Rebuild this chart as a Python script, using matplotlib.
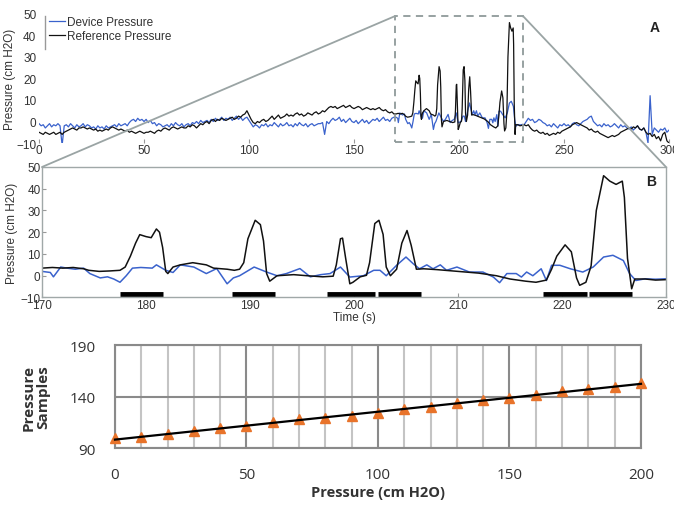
import numpy as np
import matplotlib
matplotlib.use("Agg")
import matplotlib.pyplot as plt
from matplotlib.patches import Rectangle, ConnectionPatch
from matplotlib.lines import Line2D

# -------------------------------------------------
# Data: pressure traces (cm H2O)
# -------------------------------------------------
# 1-s samples, 0..169 s
early_t = np.arange(0, 170)
ref_early = [
    -5, -5.5, -6, -5, -5.5, -6, -5.5, -5, -6, -5.5,
    -5, -6, -5, -4.5, -4, -3.5, -3, -3.5, -4, -3,
    -3, -2.5, -3, -3.5, -3, -3.5, -4, -3.5, -4.5, -4,
    -4.5, -4, -3.5, -4, -3, -2.5, -3, -3.5, -4, -3.5,
    -4, -4.5, -4, -5, -4.5, -5, -5.5, -5, -4.5, -5,
    -5.5, -5, -5, -4.5, -5, -5.5, -4.5, -4, -4.5, -3.5,
    -3, -3.5, -4, -3, -2.5, -3, -3.5, -3, -2.5, -3,
    -3, -2, -2.5, -1.5, -2, -3, -2, -1, -1.5, -0.5,
    0, -1, 0.5, 1, 0, 1, 0.5, 1.5, 1, 0.5,
    1, 1.5, 2, 1, 1.5, 2.5, 2, 3, 3.5, 5,
    3, 1, -0.5, -1, 0, -0.5, 0.5, 1, 0, 0.5,
    1.5, 2.5, 1, 2, 3, 1.5, 2, 2.5, 3.5, 2.5,
    3, 2.5, 3.5, 4, 3, 3.5, 2.5, 3, 4, 3.5,
    3, 4, 4.5, 3.5, 4, 5, 4.5, 5.5, 6.5, 7,
    6.5, 7, 6, 6.5, 7, 7.5, 6.5, 7, 7.5, 6.5,
    6, 6.5, 7, 6.5, 5.5, 6, 6.5, 6, 5.5, 6,
    5.5, 6, 6.5, 5.5, 5, 5.5, 4.5, 4, 4.5, 3.5,
]
dev_early = [
    -1, -2, -1.5, -3, -2, -1, -2.5, -1.5, -2, -1,
    -2, -11, -2, -1.5, -2.5, -1, -2, -3, -1.5, -2.5,
    -2, -1, -2.5, -1.5, -2, -3, -2.5, -3.5, -2, -3,
    -2.5, -3.5, -2, -3, -2.5, -2, -1.5, -2.5, -1, -2,
    -1.5, -1, -2, -0.5, 0.5, 1, 0, 1.5, 0.5, 1,
    0, 1, -0.5, 0.5, -1, -0.5, -2, -1, -1.5, -2.5,
    -2, -1.5, -2.5, -1, -2, -0.5, -1.5, -2, -1, -2.5,
    -1.5, -1, -2, -0.5, -1, 0, -1, 0.5, -0.5, 0,
    0.5, -0.5, 1, 0, 1.5, 0.5, 1, 2, 0.5, 1.5,
    1, 2, 0.5, 1.5, 2.5, 1, 2, 0.5, 1.5, 2,
    0.5, -1, -2.5, -1.5, -2, -3, -1.5, -2, -1, -2.5,
    -1.5, -2, -0.5, -1.5, -2.5, -1, -2, -1.5, -0.5, -2,
    -1.5, -2.5, -1, -2, -0.5, -1.5, -2, -1, -2.5, -1.5,
    -1, -2, -1.5, -1, -1, -0.5, -6, 0, -1, 0.5,
    1.5, 0.5, 1, 2, 0, 1, -0.5, 0.5, 1.5, 0,
    -0.5, 0.5, -1, 0, 1, -0.5, 0.5, -1, 0, 1,
    0.5, 1.5, 0, 1, 2, 0.5, 1, 0, 1.5, 2,
]

# zoomed section 170..230 s (irregular samples)
ref_zoom_t = [170, 171, 172, 173, 174, 174.5, 175.5, 176.5, 177.5, 178, 178.5,
              179, 179.4, 180, 180.5, 181, 181.3, 181.6, 181.9, 182.1, 182.6,
              183.3, 184.5, 185.8, 186.5, 187.8, 188.5, 189, 189.4, 189.8,
              190.5, 191, 191.3, 191.6, 191.9, 192.6, 194.2, 195.5, 197, 198,
              198.3, 198.7, 198.9, 199.2, 199.6, 199.9, 200.6, 201.2, 201.5,
              202, 202.4, 202.8, 203.1, 203.5, 204.1, 204.6, 205.1, 205.5, 206,
              206.7, 208, 210, 212, 213.7, 215, 216.5, 217.5, 218.5, 219,
              219.5, 220.3, 220.9, 221.4, 221.7, 222.3, 222.8, 223.3, 224,
              224.6, 225.2, 225.8, 226, 226.3, 226.7, 227, 228, 229, 230]
ref_zoom = [3.5, 3.8, 3.5, 3.8, 3.2, 2.5, 2, 2.2, 2.5, 4, 9,
            15, 18.9, 18, 17.5, 21.5, 20, 13, 2, 1, 4,
            5, 6, 5, 3.5, 3, 2.5, 3, 6, 17,
            25.5, 23.5, 16, 1, -2.5, 0, 0.5, 0, -0.5, -0.2,
            5, 17, 17.3, 8, -3.7, -3, -0.5, 0.2, 6,
            24, 25.5, 19, 4, 0, 3, 15, 20.8, 14, 3,
            3.2, 2.8, 2, 1.2, 0, -1.5, -2.5, -3, -2, 3,
            9, 14.2, 11, -1, -4.4, -3, 4.5, 30, 46,
            43.5, 42, 43.5, 36, 8, -6, -1.5, -1.5, -2, -1.8]

dev_zoom_t = [170, 170.8, 171.1, 171.8, 172.4, 173.2, 174, 174.6, 175.6, 176.3,
              176.9, 177.5, 178.1, 178.7, 179.5, 180.6, 181, 181.9, 182.6,
              183.3, 184.6, 185.8, 186.8, 187.8, 188.4, 189, 190.4, 191.6,
              192.6, 193.5, 194.8, 195.8, 196.8, 197.7, 198.7, 199.6, 200.9,
              201.9, 202.5, 203.1, 204.1, 205, 205.7, 206.3, 207, 207.6, 208.3,
              208.9, 209.9, 211.1, 212.4, 213.4, 214, 214.7, 215.6, 216.1,
              216.6, 217.2, 218, 218.5, 219, 219.8, 220.8, 222, 223, 224,
              224.9, 225.9, 226.5, 227.1, 228, 229, 230]
dev_zoom = [2, 1.5, -0.5, 4, 3.5, 3, 3.5, 1, -1, -0.5,
            -1.5, -3, 0, 3.5, 3.8, 3.5, 5, 2.5, 1.5,
            5, 4, 1, 3.3, -3.7, -1, 0, 4, 1.7,
            0, 1, 3.3, -0.5, 0.5, 1, 4, -0.6, 0,
            2.5, 2.5, 0, 4.8, 8.6, 5.5, 3.2, 5, 3.2, 5,
            2.5, 4, 1.7, 1.7, -0.6, -3.2, 1, 1, -0.6,
            1.7, 0, 3.2, -2.2, 4.8, 4.8, 3.2, 1.7, 4, 8.6,
            9.4, 7, 1, -2.2, -1.4, -1.6, -1.4]

# 1-s samples, 231..300 s
late_t = np.arange(231, 301)
ref_late = [
    -1.5, -2, -1.5, -3, -4, -4.5, -4, -5, -5.5, -5,
    -6, -5.5, -6.5, -6, -5.5, -6, -5, -5.5, -4.5, -4,
    -3.5, -3, -2.5, -1.5, -1, -0.5, -1, -1.5, -2, -2.5,
    -3, -4, -3.5, -4.5, -5, -4.5, -5.5, -6, -6.5, -7,
    -7.5, -7, -6.5, -7, -6.5, -6, -5, -4.5, -4, -3.5,
    -3, -3.5, -2.5, -3, -2, -3.5, -4, -3, -5, -6,
    -5.5, -7, -6, -8, -7, -9, -6, -5, -9, -10,
]
dev_late = [
    -1.5, 0, 1.5, 0.5, 1, -0.5, 0, 1, 0.5, -0.5,
    -1, -2, -1.5, -2.5, -1, -2, -3, -1.5, -2, -1,
    -2, -1.5, -2.5, -1, -0.5, -1.5, -2, -1, 0, 0.5,
    1, 2, 2.5, 0, -1, -2, -1.5, -2.5, -1, -2,
    -1.5, -2.5, -2, -1, -2, -3, -1.5, -2.5, -2, -3,
    -3.5, -2.5, -4, -3, -2, -3.5, -4, -3, -5, -10,
    12, -6, -3, -4, -5, -3.5, -4, -3, -5, -4,
]

# events marked under panel B
event_start = [177.5, 188.3, 197.4, 202.3, 218.2, 222.6]
event_end = [181.6, 192.4, 202.0, 206.4, 222.4, 226.7]

# calibration (panel C)
cal_pressure = np.arange(0, 201, 10)
cal_samples = [99.4, 100.4, 103.3, 106.2, 109.7, 111, 115.6, 118, 119, 121,
               124, 128, 130, 133.5, 136.6, 138.7, 141, 145.2, 147.4, 149, 152.9]

# -------------------------------------------------
# assemble full traces
# -------------------------------------------------
ref_t = np.concatenate([early_t, ref_zoom_t, late_t])
ref_v = np.concatenate([ref_early, ref_zoom, ref_late])
dev_t = np.concatenate([early_t, dev_zoom_t, late_t])
dev_v = np.concatenate([dev_early, dev_zoom, dev_late])

c_dev = "#3a62cc"
c_ref = "#111111"
c_gray = "#9aa4a4"
c_txt = "#333333"
sans = ["Liberation Sans", "DejaVu Sans"]
calib_font = ["Open Sans", "DejaVu Sans"]

plt.rcParams["font.family"] = sans

fig = plt.figure(figsize=(6.74, 5.06), dpi=100)

# -------------------------------------------------
# Panel A
# -------------------------------------------------
axA = fig.add_axes([0.0579, 0.7154, 0.9347, 0.2550])
axA.plot(dev_t, dev_v, color=c_dev, lw=0.9, label="Device Pressure")
axA.plot(ref_t, ref_v, color=c_ref, lw=0.9, label="Reference Pressure")
axA.set_xlim(0, 300)
axA.set_ylim(-10, 50)
axA.set_xticks([0, 50, 100, 150, 200, 250, 300])
axA.set_yticks([-10, 0, 10, 20, 30, 40, 50])
for s in axA.spines.values():
    s.set_visible(False)
axA.tick_params(axis="x", direction="in", length=3, color="#999999",
                labelsize=8.5, labelcolor=c_txt, pad=1)
axA.tick_params(axis="y", length=0, labelsize=8.5, labelcolor=c_txt, pad=2)
axA.set_ylabel("Pressure (cm H2O)", fontsize=8.5, color=c_txt, labelpad=0)
axA.text(0.985, 0.87, "A", transform=axA.transAxes, fontsize=10,
         fontweight="bold", ha="right", color="#222222")
axA.add_patch(Rectangle((169.5, -9.7), 61, 58.7, fill=False, ls=(0, (4, 3)),
                        lw=1.3, ec="#8f9a9a", zorder=3))
leg = axA.legend(loc="upper left", bbox_to_anchor=(0.005, 1.04), frameon=False,
                 fontsize=8.5, handlelength=1.3, handletextpad=0.2,
                 labelspacing=0.15, borderaxespad=0.2)
for t in leg.get_texts():
    t.set_color(c_txt)
fig.add_artist(Line2D([45 / 674, 45 / 674], [1 - 17 / 506, 1 - 50 / 506],
                      color="#999999", lw=1))

# -------------------------------------------------
# Panel B
# -------------------------------------------------
axB = fig.add_axes([0.0623, 0.4101, 0.9258, 0.2579])
axB.plot(dev_t, dev_v, color=c_dev, lw=1.1)
axB.plot(ref_t, ref_v, color=c_ref, lw=1.1)
axB.hlines([-8.6] * len(event_start), event_start, event_end, color="black",
           lw=3.5)
axB.set_xlim(170, 230)
axB.set_ylim(-10, 50)
axB.set_xticks([170, 180, 190, 200, 210, 220, 230])
axB.set_yticks([-10, 0, 10, 20, 30, 40, 50])
for s in axB.spines.values():
    s.set_color("#a0a8a8")
    s.set_linewidth(1.0)
axB.tick_params(direction="in", length=3, color="#999999", labelsize=8.5,
                labelcolor=c_txt, pad=1)
axB.set_ylabel("Pressure (cm H2O)", fontsize=8.5, color=c_txt, labelpad=2)
axB.set_xlabel("Time (s)", fontsize=8.5, color=c_txt, labelpad=0)
axB.text(0.985, 0.86, "B", transform=axB.transAxes, fontsize=10,
         fontweight="bold", ha="right", color="#222222")

# zoom connectors
for xa, xb in [(169.5, 0), (230.5, 1)]:
    con = ConnectionPatch(xyA=(xa, 49), coordsA=axA.transData,
                          xyB=(xb, 1), coordsB=axB.transAxes,
                          color=c_gray, lw=1.3)
    fig.add_artist(con)

# -------------------------------------------------
# Panel C
# -------------------------------------------------
axC = fig.add_axes([0.1706, 0.1126, 0.7804, 0.2036])
axC.set_xlim(0, 200)
axC.set_ylim(90, 190)
axC.set_xticks(np.arange(0, 201, 50))
axC.set_xticks(np.arange(0, 201, 10), minor=True)
axC.set_yticks([90, 140, 190])
axC.grid(which="minor", axis="x", color="#c4c4c4", lw=1.5)
axC.grid(which="major", axis="both", color="#8a8a8a", lw=1.5)
axC.set_axisbelow(True)
for s in axC.spines.values():
    s.set_color("#8a8a8a")
    s.set_linewidth(1.5)
fit = np.polyfit(cal_pressure, cal_samples, 1)
axC.plot(cal_pressure, cal_samples, ls="none", marker="^", ms=7.5,
         color="#e8732a", zorder=3, clip_on=False)
axC.plot([0, 200], np.polyval(fit, [0, 200]), color="black", lw=1.6,
         zorder=4, clip_on=False)
axC.tick_params(which="both", length=0, labelsize=11, labelcolor="#333333")
axC.tick_params(axis="x", pad=14)
axC.tick_params(axis="y", pad=14)
for lab in axC.get_xticklabels() + axC.get_yticklabels():
    lab.set_family(calib_font)
axC.set_xlabel("Pressure (cm H2O)", fontsize=10.5, fontweight="bold",
               family=calib_font, color="#333333", labelpad=2)
axC.set_ylabel("Pressure\nSamples", fontsize=11, fontweight="bold",
               family=calib_font, color="#333333", labelpad=14,
               linespacing=1.0)

fig.savefig("out.png", dpi=100)
